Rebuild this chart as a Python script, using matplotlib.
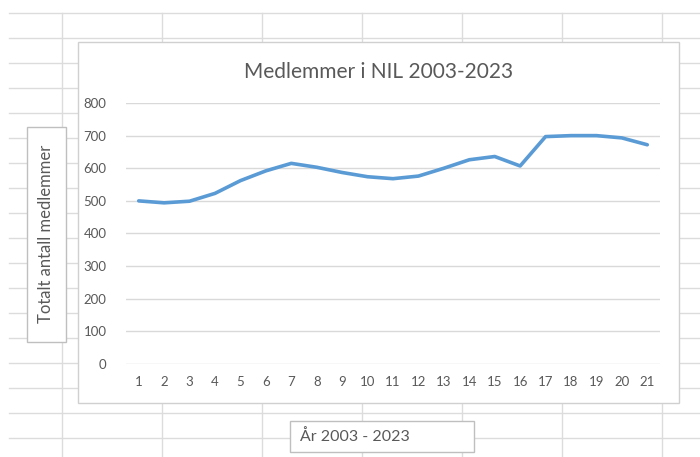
import matplotlib.pyplot as plt
from matplotlib.patches import Rectangle

# data: members per year (1 = 2003 ... 21 = 2023)
years = list(range(1, 22))
members = [500, 494, 499, 523, 562, 592, 615, 603, 587, 574, 568, 576,
           600, 626, 636, 607, 697, 700, 700, 693, 672]
y_ticks = [0, 100, 200, 300, 400, 500, 600, 700, 800]

title = "Medlemmer i NIL 2003-2023"
ylabel = "Totalt antall medlemmer"
xlabel = "År 2003 - 2023"

txt = "#595959"
plt.rcParams['font.family'] = ['Lato', 'DejaVu Sans']

W, H = 700, 457
fig = plt.figure(figsize=(W / 100, H / 100), dpi=100)

# spreadsheet background in pixel coordinates
bg = fig.add_axes([0, 0, 1, 1])
bg.set_xlim(0, W)
bg.set_ylim(H, 0)
bg.axis("off")
sheet = "#dcdcdc"
for x in range(62, W, 100):
    bg.plot([x, x], [13, H], color=sheet, lw=1, zorder=1)
for y in range(13, H, 25):
    bg.plot([9, W], [y, y], color=sheet, lw=1, zorder=1)

# chart area
bg.add_patch(Rectangle((78, 42), 601, 361, facecolor="white",
                       edgecolor="#d0d0d0", lw=1, zorder=2))
bg.text(379, 72, title, fontsize=15, color=txt, ha="center", va="center", zorder=3)

# y axis title box
bg.add_patch(Rectangle((27, 127), 39, 215, facecolor="white",
                       edgecolor="#bfbfbf", lw=1, zorder=2))
bg.text(46, 234, ylabel, fontsize=12, color=txt, rotation=90,
        ha="center", va="center", zorder=3)

# x axis title box
bg.add_patch(Rectangle((290, 421), 184, 31, facecolor="white",
                       edgecolor="#bfbfbf", lw=1, zorder=2))
bg.text(300, 437, xlabel, fontsize=11.5, color=txt, ha="left", va="center", zorder=3)

# plot area
ax = fig.add_axes([126 / W, 1 - 364 / H, 534 / W, 261 / H])
ax.patch.set_alpha(0)
ax.plot(years, members, color="#5b9bd5", lw=2.6, solid_capstyle="round", zorder=3)
ax.set_xlim(0.5, 21.5)
ax.set_ylim(0, 800)
ax.set_yticks(y_ticks)
ax.set_xticks(years)
for v in y_ticks:
    ax.axhline(v, color="#d9d9d9", lw=1, zorder=1)
for s in ax.spines.values():
    s.set_visible(False)
ax.tick_params(length=0, labelsize=9.5, labelcolor=txt)
ax.tick_params(axis="y", pad=14)
ax.tick_params(axis="x", pad=9)

fig.savefig("out.png", dpi=100)
